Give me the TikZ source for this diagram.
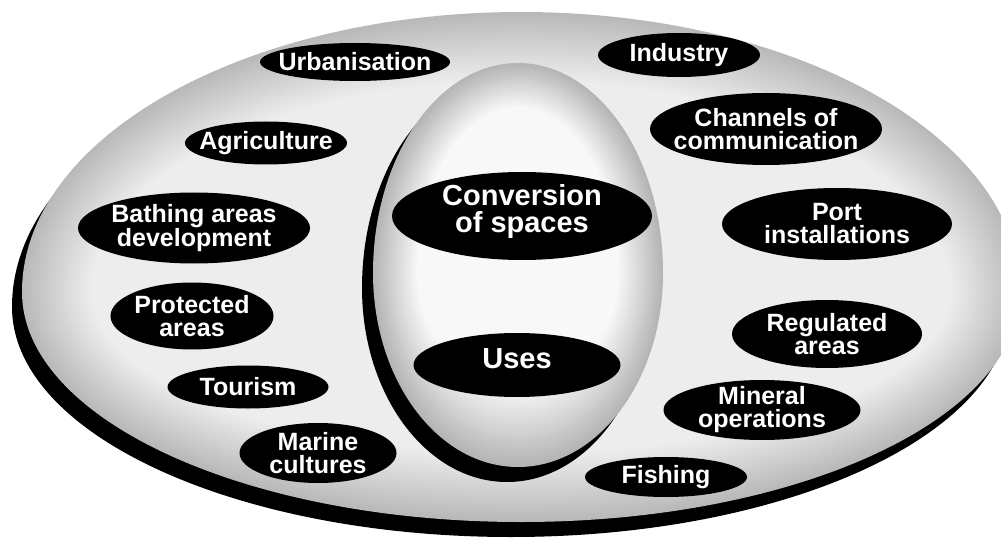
\documentclass[tikz,border=0pt]{standalone}
\usepackage{fontspec}
\setmainfont{Liberation Sans}
\usetikzlibrary{shapes.geometric}
\begin{document}
\begin{tikzpicture}[x=1pt,y=1pt,
  lbl/.style={text=white, font=\bfseries\fontsize{25}{23}\selectfont, align=center, inner sep=0pt},
  biglbl/.style={lbl, font=\bfseries\fontsize{29}{27}\selectfont, yshift=4pt},
  blob/.style={ellipse, fill=black, inner sep=0pt, label={[lbl]center:{#1}}},
  bigblob/.style={ellipse, fill=black, inner sep=0pt, label={[biglbl]center:{#1}}}]
\useasboundingbox (0,0) rectangle (1001,547);
\clip (0,0) rectangle (1001,547);
% platter shadow
\fill[black] (12,240) arc[start angle=180,end angle=0,x radius=499,y radius=280]
  arc[start angle=0,end angle=-180,x radius=499,y radius=230] -- cycle;
% platter body, graded rim
\foreach \d in {0,2,...,70}{
  \pgfmathsetmacro\c{max(14,55-0.6*\d)}
  \fill[gray!\c] ({22+\d},255) arc[start angle=180,end angle=0,x radius={499-\d},y radius={280-\d}]
    arc[start angle=0,end angle=-180,x radius={499-\d},y radius={230-\d}] -- cycle;
}
% central egg shadow
\fill[black] (362,259) arc[start angle=180,end angle=0,x radius=145,y radius=210]
  arc[start angle=0,end angle=-180,x radius=145,y radius=194] -- cycle;
% central egg body
\foreach \d in {0,2,...,44}{
  \pgfmathsetmacro\c{max(4,58-1.2*\d)}
  \fill[gray!\c] ({373+\d},274) arc[start angle=180,end angle=0,x radius={145-\d},y radius={210-\d}]
    arc[start angle=0,end angle=-180,x radius={145-\d},y radius={194-1.8*\d}] -- cycle;
}
% nodes
\node[blob={Urbanisation}, minimum width=190pt, minimum height=38pt] (urb) at (355,485) {};
\node[blob={Industry}, minimum width=162pt, minimum height=44pt] (ind) at (679,492) {};
\node[blob={Agriculture}, minimum width=162pt, minimum height=43pt] (agr) at (266,404) {};
\node[blob={Channels of\\communication}, minimum width=232pt, minimum height=72pt] (chan) at (766,418) {};
\node[blob={Bathing areas\\development}, minimum width=232pt, minimum height=71pt] (bath) at (194,319) {};
\node[bigblob={Conversion\\of spaces}, minimum width=260pt, minimum height=88pt] (conv) at (522,331) {};
\node[blob={Port\\installations}, minimum width=230pt, minimum height=72pt] (port) at (837,323) {};
\node[blob={Protected\\areas}, minimum width=163pt, minimum height=67pt] (prot) at (192,231) {};
\node[blob={Regulated\\areas}, minimum width=190pt, minimum height=68pt] (reg) at (827,213) {};
\node[ellipse, fill=black, inner sep=0pt, label={[biglbl, yshift=2pt]center:Uses}, minimum width=207pt, minimum height=64pt] (uses) at (517,182) {};
\node[blob={Tourism}, minimum width=161pt, minimum height=43pt] (tour) at (248,160) {};
\node[blob={Mineral\\operations}, minimum width=197pt, minimum height=60pt] (min) at (762,137) {};
\node[blob={Marine\\cultures}, minimum width=157pt, minimum height=60pt] (mar) at (318,94) {};
\node[blob={Fishing}, minimum width=162pt, minimum height=40pt] (fish) at (666,70) {};
\end{tikzpicture}
\end{document}
